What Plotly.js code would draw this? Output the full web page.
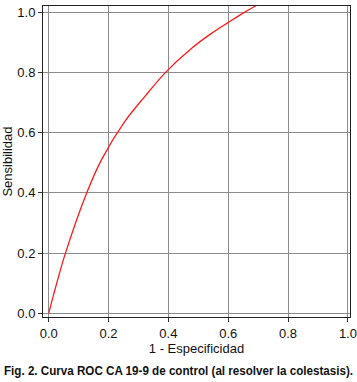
<!DOCTYPE html>
<html>
<head>
<meta charset="utf-8">
<script src="https://cdn.plot.ly/plotly-3.0.1.min.js"></script>
<style>
html,body{margin:0;padding:0;background:#fff;}
#chart{width:357px;height:382px;}
</style>
</head>
<body>
<div id="chart"></div>
<script>
// ROC curve points (1 - specificity, sensitivity)
const fpr = [0, 0.030, 0.056, 0.127, 0.178, 0.254, 0.321, 0.393, 0.477, 0.544, 0.598, 0.654, 0.692];
const tpr = [0, 0.111, 0.200, 0.400, 0.513, 0.637, 0.720, 0.803, 0.880, 0.930, 0.965, 1.000, 1.021];
const tickVals = [0, 0.2, 0.4, 0.6, 0.8, 1.0];
const tickText = ["0.0", "0.2", "0.4", "0.6", "0.8", "1.0"];
const xTitle = "1 - Especificidad";
const yTitle = "Sensibilidad";
const caption = "Fig. 2. Curva ROC CA 19-9 de control (al resolver la colestasis).";

const font = "Liberation Sans, Arial, Helvetica, sans-serif";

const trace = {
  x: fpr, y: tpr, type: "scatter", mode: "lines",
  line: {color: "#ff1a1a", width: 1.3, shape: "spline", smoothing: 1},
  hoverinfo: "skip"
};

const axisCommon = {
  tickvals: tickVals, ticktext: tickText,
  ticks: "outside", ticklen: 4, tickcolor: "#333", tickwidth: 1,
  showgrid: true, gridcolor: "#8c8c8c", gridwidth: 1,
  zeroline: false,
  showline: true, linecolor: "#222", linewidth: 1, mirror: true,
  tickfont: {family: font, size: 13, color: "#111"}
};

const layout = {
  width: 357, height: 382,
  margin: {l: 43, r: 7, t: 6, b: 65},
  paper_bgcolor: "#fff", plot_bgcolor: "#fff",
  showlegend: false,
  xaxis: Object.assign({}, axisCommon, {
    range: [-0.019, 1.007],
    title: {text: xTitle, font: {family: font, size: 13, color: "#111"}, standoff: 1}
  }),
  yaxis: Object.assign({}, axisCommon, {
    range: [-0.0123, 1.021],
    title: {text: yTitle, font: {family: font, size: 13, color: "#111"}, standoff: 4}
  }),
  annotations: [{
    text: "<b>" + caption + "</b>",
    xref: "paper", yref: "paper", x: 0.5, y: 0, xanchor: "center", yanchor: "middle",
    yshift: -54, xshift: -9, showarrow: false,
    font: {family: font, size: 12, color: "#111"}
  }]
};

Plotly.newPlot("chart", [trace], layout, {displayModeBar: false, staticPlot: true}).then(function () {
  // condense the caption to the width of the original (narrow bold face)
  const t = document.querySelector(".annotation-text");
  if (t) {
    t.setAttribute("textLength", "349");
    t.setAttribute("lengthAdjust", "spacingAndGlyphs");
    const box = t.getBoundingClientRect();
    const dx = 4 - box.left;
    const g = t.parentNode;
    const prev = g.getAttribute("transform") || "";
    g.setAttribute("transform", prev + " translate(" + dx + ",0)");
    document.querySelectorAll(".annotation rect").forEach(function (r) {
      r.setAttribute("x", "0");
      r.setAttribute("width", "349");
    });
  }
});
</script>
</body>
</html>
